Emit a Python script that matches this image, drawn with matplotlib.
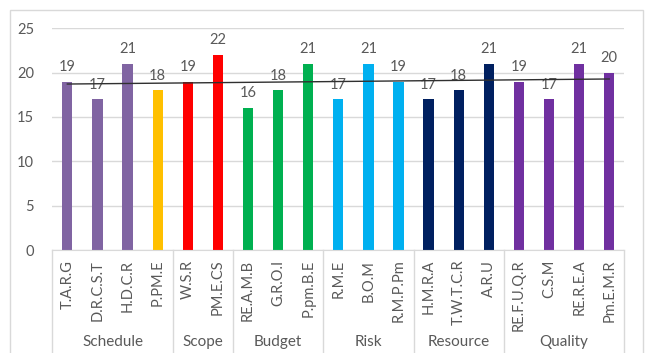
import numpy as np
import matplotlib.pyplot as plt
from matplotlib.patches import Rectangle
from matplotlib.transforms import blended_transform_factory

plt.rcParams['font.family'] = ['Lato', 'DejaVu Sans']

# criteria under each project area
groups = ['Schedule', 'Scope', 'Budget', 'Risk', 'Resource', 'Quality']
group_sizes = [4, 2, 3, 3, 3, 4]
labels = ['T.A.R.G', 'D.R.C.S.T', 'H.D.C.R', 'P.PM.E',
          'W.S.R', 'PM.E.CS',
          'RE.A.M.B', 'G.R.O.I', 'P.pm.B.E',
          'R.M.E', 'B.O.M', 'R.M.P.Pm',
          'H.M.R.A', 'T.W.T.C.R', 'A.R.U',
          'RE.F.U.Q.R', 'C.S.M', 'RE.R.E.A', 'Pm.E.M.R']
values = [19, 17, 21, 18, 19, 22, 16, 18, 21, 17, 21, 19, 17, 18, 21, 19, 17, 21, 20]
colors = ['#8064A2', '#8064A2', '#8064A2', '#FFC000',
          '#FF0000', '#FF0000',
          '#00B050', '#00B050', '#00B050',
          '#00B0F0', '#00B0F0', '#00B0F0',
          '#002060', '#002060', '#002060',
          '#7030A0', '#7030A0', '#7030A0', '#7030A0']

W, H = 648, 353
fig = plt.figure(figsize=(W / 100, H / 100), dpi=100)
ax = fig.add_axes([52.3 / W, 1 - 250 / H, 572 / W, 221.7 / H])

x = np.arange(len(values))
ax.bar(x, values, width=0.34, color=colors, zorder=2)

for xi, v in zip(x, values):
    ax.annotate(str(v), (xi, v), xytext=(0, 5.5), textcoords='offset points',
                ha='center', va='bottom', fontsize=10.5, color='#595959')

# linear trend over all criteria
k, b = np.polyfit(x, values, 1)
ax.plot(x, k * x + b, color='#303030', lw=1, zorder=4)

ax.set_xlim(-0.5, len(values) - 0.5)
ax.set_ylim(0, 25)
ax.set_yticks(range(0, 26, 5))
ax.tick_params(axis='y', length=0, labelsize=10.5, labelcolor='#595959', pad=13)
ax.set_xticks(x)
ax.set_xticklabels(labels, rotation=90, fontsize=10.5, color='#595959')
ax.tick_params(axis='x', length=0, pad=7)
ax.grid(axis='y', color='#D9D9D9', lw=1, zorder=0)
for s in ['top', 'right', 'left']:
    ax.spines[s].set_visible(False)
ax.spines['bottom'].set_color('#D9D9D9')

# group separators and names below the axis
tr = blended_transform_factory(ax.transData, ax.transAxes)
edges = np.concatenate([[0], np.cumsum(group_sizes)]) - 0.5
for e in edges:
    ax.plot([e, e], [0, -0.47], color='#D9D9D9', lw=1, transform=tr, clip_on=False)
for name, lo, hi in zip(groups, edges[:-1], edges[1:]):
    ax.text((lo + hi) / 2, -0.415, name, transform=tr, ha='center', va='center',
            fontsize=11, color='#595959')

fig.patches.append(Rectangle((10 / W, -0.05), 633 / W, 1.05 - 10 / H,
                             transform=fig.transFigure, fill=False,
                             edgecolor='#D9D9D9', lw=1))

fig.savefig('out.png', dpi=100)
